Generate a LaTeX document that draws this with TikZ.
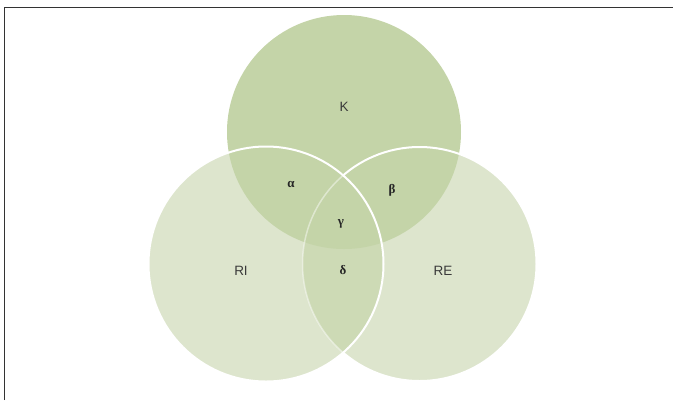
\documentclass[tikz,border=0pt]{standalone}
\usepackage{fontspec}
\setmainfont{Liberation Serif}
\newfontfamily\labfont{Liberation Sans}
\definecolor{kfill}{HTML}{C4D4A8}
\definecolor{rfill}{HTML}{DDE5CD}
\definecolor{dfill}{HTML}{CDDAB5}
\definecolor{labcol}{HTML}{3A3A3A}
\definecolor{framecol}{HTML}{333333}
\tikzset{
  setlabel/.style={font=\labfont\fontsize{13.5}{13.5}\selectfont, text=labcol},
  greeklabel/.style={font=\bfseries\fontsize{13}{13}\selectfont, text=black!85},
  ring/.style={draw=white, line width=2pt},
}
\begin{document}
\begin{tikzpicture}[x=1pt,y=-1pt]
\useasboundingbox (0,0) rectangle (673,400);
\coordinate (ck) at (344,132);
\coordinate (ci) at (266,264);
\coordinate (ce) at (419.5,264);
% frame
\draw[framecol, line width=1pt] (4.5,400) -- (4.5,7.5) -- (673,7.5);
% fills
\fill[rfill] (ci) circle (117.5);
\fill[rfill] (ce) circle (117);
\begin{scope}
  \clip (ci) circle (117.5);
  \fill[dfill] (ce) circle (117);
\end{scope}
\fill[kfill] (ck) circle (117);
% RE outline: full outside RI, faint inside RI
\begin{scope}[even odd rule]
  \clip (-10,-10) rectangle (700,420) (ci) circle (117.5);
  \draw[ring] (ce) circle (117);
\end{scope}
\begin{scope}
  \clip (ci) circle (117.5);
  \draw[draw=white, draw opacity=0.45, line width=1.5pt] (ce) circle (117);
\end{scope}
% RI outline
\draw[ring] (ci) circle (117.5);
% labels
\node[setlabel] (lk) at (344,107) {K};
\node[setlabel] (li) at (241,271) {RI};
\node[setlabel] (le) at (443,271) {RE};
\node[greeklabel] (la) at (291,184) {α};
\node[greeklabel] (lb) at (392,190) {β};
\node[greeklabel] (lg) at (341,224) {γ};
\node[greeklabel] (ld) at (343,270) {δ};
\end{tikzpicture}
\end{document}
